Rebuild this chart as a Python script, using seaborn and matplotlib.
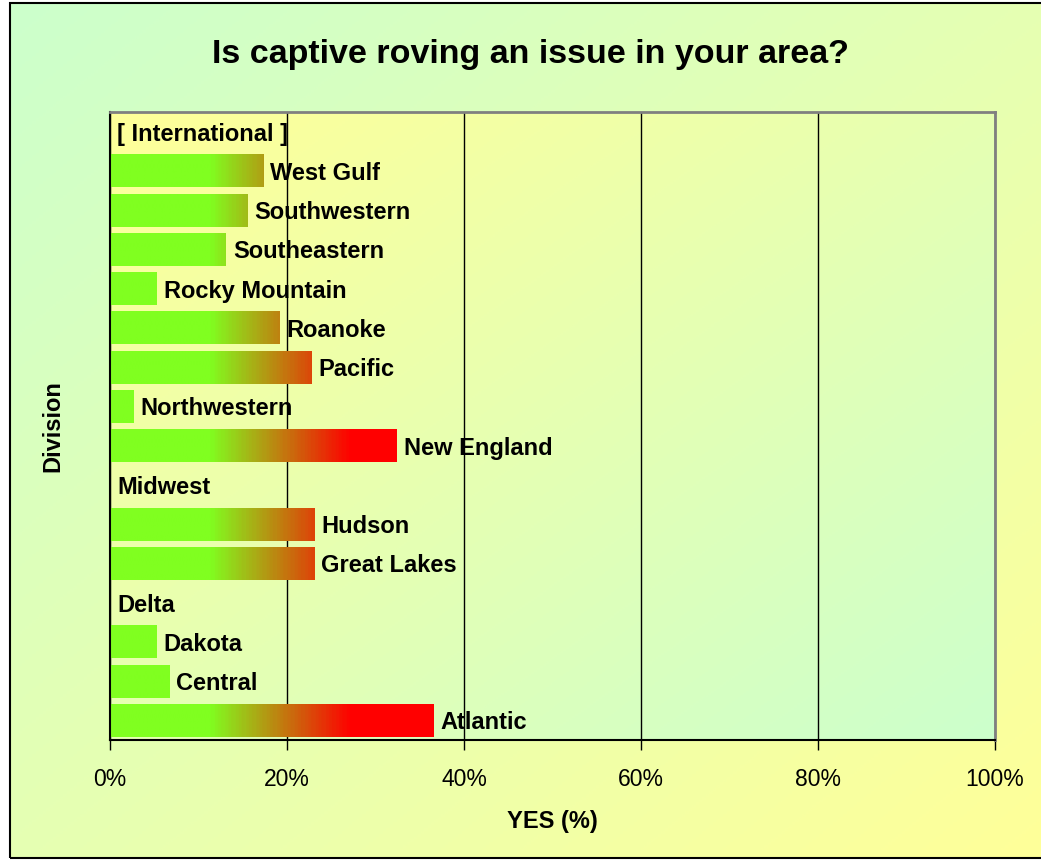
import numpy as np
import pandas as pd
import matplotlib
matplotlib.use('Agg')
import matplotlib.pyplot as plt
import seaborn as sns
from matplotlib.colors import LinearSegmentedColormap
from matplotlib.patches import Rectangle

# Data (top to bottom)
divisions = ['[ International ]', 'West Gulf', 'Southwestern', 'Southeastern',
             'Rocky Mountain', 'Roanoke', 'Pacific', 'Northwestern',
             'New England', 'Midwest', 'Hudson', 'Great Lakes', 'Delta',
             'Dakota', 'Central', 'Atlantic']
yes_pct = [0, 17.3, 15.5, 13.1, 5.3, 19.1, 22.8, 2.7,
           32.4, 0, 23.1, 23.1, 0, 5.3, 6.7, 36.5]
xticks = [0, 20, 40, 60, 80, 100]
title = 'Is captive roving an issue in your area?'

sns.set_style('white')
plt.rcParams['font.family'] = ['Liberation Sans', 'DejaVu Sans']
plt.rcParams['text.color'] = 'black'
plt.rcParams['axes.labelcolor'] = 'black'
plt.rcParams['xtick.color'] = 'black'

W, H = 1041, 860
fig = plt.figure(figsize=(W / 100, H / 100), dpi=100)
fig.patch.set_facecolor('white')

# diagonal gradient helper
gx, gy = np.meshgrid(np.linspace(0, 1, 300), np.linspace(0, 1, 300))
diag = (gx + gy) / 2

# figure background (green top-left -> yellow bottom-right)
bg = fig.add_axes([10 / W, 2 / H, 1 - 10 / W, 1 - 5 / H], zorder=-5)
bg.imshow(diag, cmap=LinearSegmentedColormap.from_list('fbg', ['#CCFFCC', '#FFFF99']),
          aspect='auto', extent=[0, 1, 0, 1])
bg.axis('off')

# plot area background (yellow top-left -> green bottom-right)
pos = [110 / W, 1 - 740 / H, 885 / W, 628 / H]
pbg = fig.add_axes(pos, zorder=-1)
pbg.imshow(diag, cmap=LinearSegmentedColormap.from_list('pbg', ['#FFFF99', '#CCFFCC']),
           aspect='auto', extent=[0, 1, 0, 1])
pbg.axis('off')

ax = fig.add_axes(pos)
ax.set_facecolor('none')
df = pd.DataFrame({'division': divisions, 'yes': yes_pct})
sns.barplot(data=df, x='yes', y='division', orient='h', width=0.84,
            color='#80FF20', saturation=1, ax=ax)

# green -> red gradient along x, fixed to data position
bar_cmap = LinearSegmentedColormap.from_list(
    'bar', [(0, '#80FF20'), (0.11, '#80FF20'), (0.27, '#FF0000'), (1, '#FF0000')])
grad = np.linspace(0, 100, 600)[None, :]
for p in list(ax.patches):
    y0, y1 = p.get_y(), p.get_y() + p.get_height()
    im = ax.imshow(grad, cmap=bar_cmap, vmin=0, vmax=100, aspect='auto',
                   extent=[0, 100, y1, y0], zorder=2, interpolation='bilinear')
    im.set_clip_path(p)
    p.set_facecolor('none')
    p.set_edgecolor('none')

# labels at bar ends
for i, (name, v) in enumerate(zip(divisions, yes_pct)):
    ax.annotate(name, xy=(v, i), xytext=(5, 0), textcoords='offset points',
                ha='left', va='center_baseline', fontsize=17, fontweight='bold',
                color='black', zorder=4)

ax.set_xlim(0, 100)
ax.set_ylim(len(divisions) - 0.5, -0.5)
ax.set_xticks(xticks)
ax.set_xticklabels([f'{v}%' for v in xticks])
ax.set_yticks([])
ax.grid(axis='x', color='black', lw=1)
ax.grid(axis='y', visible=False)
ax.set_axisbelow(True)
ax.tick_params(axis='x', direction='out', length=7, width=1, color='black',
               labelcolor='black', labelsize=16.5, pad=13, bottom=True)

for s in ['left', 'bottom']:
    ax.spines[s].set_color('black')
    ax.spines[s].set_linewidth(1.5)
for s in ['top', 'right']:
    ax.spines[s].set_color('#808080')
    ax.spines[s].set_linewidth(2)

ax.set_xlabel('YES (%)', fontsize=17, fontweight='bold', color='black')
ax.xaxis.set_label_coords(0.5, -0.112)
ax.set_ylabel('Division', fontsize=17, fontweight='bold', color='black')
ax.yaxis.set_label_coords(-0.052, 0.5)

fig.text(530 / W, 1 - 54 / H, title, ha='center', va='center',
         fontsize=24.5, fontweight='bold', color='black')

fig.add_artist(Rectangle((10 / W, 2 / H), 1.0, 1 - 5 / H, transform=fig.transFigure,
                         fill=False, ec='black', lw=1.5))

fig.savefig('out.png', dpi=100)
